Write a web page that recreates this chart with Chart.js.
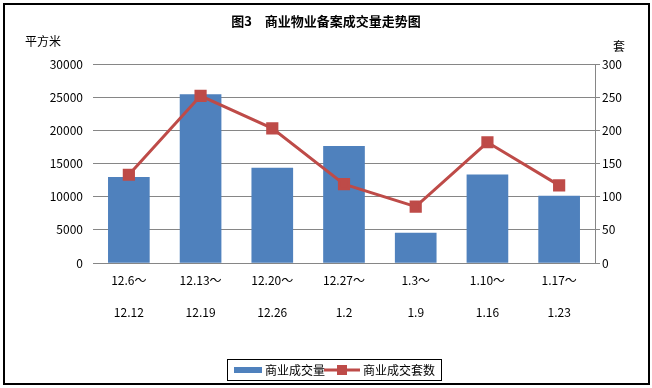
<!DOCTYPE html>
<html>
<head>
<meta charset="utf-8">
<script src="https://cdn.jsdelivr.net/npm/chart.js@4/dist/chart.umd.min.js"></script>
<style>
html,body{margin:0;padding:0;background:#fff;}
#wrap{position:relative;width:652px;height:388px;}
#frame{position:absolute;left:3px;top:3px;width:643px;height:378px;border:2px solid #000;pointer-events:none;}
.txt{position:absolute;font-family:"Noto Sans CJK SC","DejaVu Sans",sans-serif;font-size:12px;color:#000;white-space:nowrap;}
#ttl{left:0;width:652px;top:11px;text-align:center;font-weight:bold;font-size:13px;}
</style>
</head>
<body>
<div id="wrap">
  <canvas id="c" width="652" height="388"></canvas>
  <div id="frame"></div>
  <div class="txt" id="ttl">图3　商业物业备案成交量走势图</div>
  <div class="txt" style="left:25px;top:32px">平方米</div>
  <div class="txt" style="left:613px;top:37px">套</div>
</div>
<script>
// ── data ──
var cats=[['12.6～','12.12'],['12.13～','12.19'],['12.20～','12.26'],['12.27～','1.2'],['1.3～','1.9'],['1.10～','1.16'],['1.17～','1.23']];
var area=[12900,25400,14300,17600,4500,13300,10100];
var units=[133,252,203,119,85,182,117];
var areaTicks=[0,5000,10000,15000,20000,25000,30000];
var unitTicks=[0,50,100,150,200,250,300];

var FONT='"Noto Sans CJK SC","DejaVu Sans",sans-serif';
var BLUE='#4f81bd',RED='#be4b48',GRID='#868686';

/* legend drawn by hand: box with bar swatch + line/marker swatch */
var boxLegend={id:'boxLegend',afterDraw:function(ch){
  var c=ch.ctx,bar=ch.data.datasets[0],ln=ch.data.datasets[1];
  c.save();
  c.strokeStyle='#000';c.lineWidth=1;
  c.strokeRect(227.5,359.5,214,21);
  c.font='12px '+FONT;c.textBaseline='middle';
  c.fillStyle=bar.backgroundColor;c.fillRect(234,367,28,6);
  c.fillStyle='#000';c.fillText(bar.label,265,370);
  c.strokeStyle=ln.borderColor;c.lineWidth=3;
  c.beginPath();c.moveTo(324,370);c.lineTo(360,370);c.stroke();
  c.fillStyle=ln.pointBackgroundColor;c.fillRect(337,365,10,10);
  c.fillStyle='#000';c.fillText(ln.label,363,370);
  c.restore();
}};

function plain(v){return String(v);}

new Chart(document.getElementById('c'),{
  data:{labels:cats,datasets:[
    {type:'bar',label:'商业成交量',data:area,yAxisID:'y',backgroundColor:BLUE,barThickness:41,order:1},
    {type:'line',label:'商业成交套数',data:units,yAxisID:'y1',borderColor:RED,borderWidth:3,
      pointStyle:'rect',pointRadius:6.5,pointBackgroundColor:RED,pointBorderColor:RED,tension:0,order:0}
  ]},
  options:{
    responsive:false,animation:false,
    layout:{padding:{left:0,right:0,top:64,bottom:0}},
    plugins:{legend:{display:false},title:{display:false},tooltip:{enabled:false}},
    scales:{
      x:{grid:{display:false},border:{display:false},
        ticks:{font:{family:FONT,size:12,lineHeight:2.67},color:'#000',padding:-7,maxRotation:0,autoSkip:false},
        afterFit:function(s){s.height=125;}},
      y:{position:'left',min:0,max:30000,
        afterBuildTicks:function(s){s.ticks=areaTicks.map(function(v){return{value:v};});},
        grid:{color:GRID,drawTicks:false},border:{display:false},
        ticks:{font:{family:FONT,size:12},color:'#000',padding:10,callback:plain},
        afterFit:function(s){s.width=93;}},
      y1:{position:'right',min:0,max:300,
        afterBuildTicks:function(s){s.ticks=unitTicks.map(function(v){return{value:v};});},
        grid:{drawOnChartArea:false,color:GRID,tickLength:5},border:{display:true,color:GRID},
        ticks:{font:{family:FONT,size:12},color:'#000',padding:2,callback:plain},
        afterFit:function(s){s.width=57;}}
    }
  },
  plugins:[boxLegend]
});
</script>
</body>
</html>
